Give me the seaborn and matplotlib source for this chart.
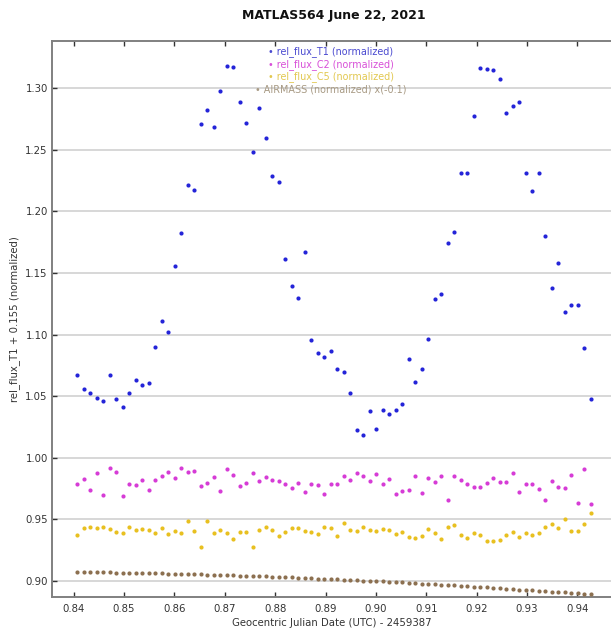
import numpy as np
import pandas as pd
import matplotlib
matplotlib.use("Agg")
import matplotlib.pyplot as plt
import seaborn as sns

# ---- data ----
jd = [0.84075, 0.84204, 0.84333, 0.84462, 0.84591, 0.84720, 0.84849, 0.84978, 0.85107, 0.85236,
      0.85365, 0.85494, 0.85623, 0.85752, 0.85881, 0.86010, 0.86139, 0.86268, 0.86397, 0.86526,
      0.86655, 0.86784, 0.86913, 0.87042, 0.87171, 0.87300, 0.87429, 0.87558, 0.87687, 0.87816,
      0.87945, 0.88074, 0.88203, 0.88332, 0.88461, 0.88590, 0.88719, 0.88848, 0.88977, 0.89106,
      0.89235, 0.89364, 0.89493, 0.89622, 0.89751, 0.89880, 0.90009, 0.90138, 0.90267, 0.90396,
      0.90525, 0.90654, 0.90783, 0.90912, 0.91041, 0.91170, 0.91299, 0.91428, 0.91557, 0.91686,
      0.91815, 0.91944, 0.92073, 0.92202, 0.92331, 0.92460, 0.92589, 0.92718, 0.92847, 0.92976,
      0.93105, 0.93234, 0.93363, 0.93492, 0.93621, 0.93750, 0.93879, 0.94008, 0.94137, 0.94266]

flux_T1 = [1.0675, 1.0558, 1.0528, 1.0482, 1.0463, 1.0675, 1.0476, 1.0407, 1.0528, 1.0628,
           1.0590, 1.0604, 1.0902, 1.1111, 1.1023, 1.1558, 1.1826, 1.2211, 1.2173, 1.2707,
           1.2821, 1.2688, 1.2980, 1.3181, 1.3173, 1.2886, 1.2715, 1.2480, 1.2842, 1.2598,
           1.2289, 1.2238, 1.1615, 1.1398, 1.1293, 1.1667, 1.0958, 1.0846, 1.0821, 1.0867,
           1.0718, 1.0699, 1.0528, 1.0222, 1.0184, 1.0382, 1.0230, 1.0387, 1.0350, 1.0387,
           1.0439, 1.0797, 1.0612, 1.0718, 1.0966, 1.1285, 1.1328, 1.1742, 1.1832, 1.2309,
           1.2314, 1.2777, 1.3165, 1.3159, 1.3146, 1.3076, 1.2797, 1.2859, 1.2886, 1.2309,
           1.2168, 1.2309, 1.1799, 1.1374, 1.1582, 1.1181, 1.1238, 1.1238, 1.0889, 1.0476]

flux_C2 = [0.9783, 0.9824, 0.9734, 0.9872, 0.9696, 0.9913, 0.9880, 0.9688, 0.9789, 0.9777,
           0.9821, 0.9734, 0.9821, 0.9854, 0.9880, 0.9834, 0.9913, 0.9880, 0.9891, 0.9772,
           0.9797, 0.9842, 0.9726, 0.9905, 0.9862, 0.9767, 0.9797, 0.9872, 0.9810, 0.9842,
           0.9821, 0.9807, 0.9783, 0.9750, 0.9797, 0.9720, 0.9783, 0.9775, 0.9707, 0.9783,
           0.9789, 0.9854, 0.9815, 0.9875, 0.9848, 0.9810, 0.9864, 0.9789, 0.9829, 0.9707,
           0.9726, 0.9740, 0.9854, 0.9712, 0.9834, 0.9802, 0.9854, 0.9655, 0.9848, 0.9821,
           0.9789, 0.9764, 0.9759, 0.9797, 0.9834, 0.9802, 0.9802, 0.9878, 0.9720, 0.9789,
           0.9783, 0.9745, 0.9655, 0.9807, 0.9759, 0.9750, 0.9859, 0.9631, 0.9905, 0.9623]

flux_C5 = [0.9371, 0.9428, 0.9433, 0.9428, 0.9433, 0.9420, 0.9395, 0.9385, 0.9439, 0.9415,
           0.9420, 0.9415, 0.9390, 0.9428, 0.9376, 0.9401, 0.9390, 0.9485, 0.9401, 0.9276,
           0.9485, 0.9390, 0.9415, 0.9390, 0.9338, 0.9395, 0.9395, 0.9276, 0.9415, 0.9433,
           0.9415, 0.9363, 0.9395, 0.9428, 0.9428, 0.9407, 0.9395, 0.9376, 0.9433, 0.9428,
           0.9363, 0.9466, 0.9415, 0.9401, 0.9433, 0.9415, 0.9401, 0.9420, 0.9415, 0.9376,
           0.9395, 0.9352, 0.9344, 0.9363, 0.9420, 0.9390, 0.9336, 0.9439, 0.9452, 0.9371,
           0.9350, 0.9390, 0.9371, 0.9320, 0.9325, 0.9333, 0.9371, 0.9395, 0.9358, 0.9385,
           0.9371, 0.9390, 0.9433, 0.9458, 0.9428, 0.9498, 0.9407, 0.9401, 0.9460, 0.9553]

airmass = [0.9073, 0.9072, 0.9071, 0.9070, 0.9068, 0.9067, 0.9066, 0.9065, 0.9064, 0.9063,
           0.9062, 0.9060, 0.9059, 0.9058, 0.9057, 0.9056, 0.9055, 0.9053, 0.9052, 0.9051,
           0.9049, 0.9047, 0.9046, 0.9044, 0.9043, 0.9041, 0.9039, 0.9037, 0.9035, 0.9034,
           0.9032, 0.9030, 0.9028, 0.9026, 0.9024, 0.9022, 0.9020, 0.9017, 0.9015, 0.9012,
           0.9010, 0.9008, 0.9005, 0.9003, 0.9000, 0.8998, 0.8995, 0.8993, 0.8990, 0.8987,
           0.8985, 0.8982, 0.8979, 0.8976, 0.8973, 0.8970, 0.8967, 0.8964, 0.8961, 0.8957,
           0.8954, 0.8951, 0.8948, 0.8945, 0.8941, 0.8938, 0.8934, 0.8931, 0.8927, 0.8924,
           0.8920, 0.8917, 0.8913, 0.8910, 0.8907, 0.8904, 0.8901, 0.8897, 0.8893, 0.8889]

series_labels = ["rel_flux_T1 (normalized)", "rel_flux_C2 (normalized)",
                 "rel_flux_C5 (normalized)", "AIRMASS (normalized) x(-0.1)"]
point_colors = ["#2424d8", "#d63cd6", "#e8c020", "#8c7050"]
text_colors = ["#4a4ad0", "#d850d8", "#e2c850", "#a89a84"]

xticks = [0.84, 0.85, 0.86, 0.87, 0.88, 0.89, 0.90, 0.91, 0.92, 0.93, 0.94]
yticks = [0.90, 0.95, 1.00, 1.05, 1.10, 1.15, 1.20, 1.25, 1.30]

# ---- figure ----
sns.set_style("white")
plt.rcParams['font.family'] = ['DejaVu Sans']

fig = plt.figure(figsize=(6.11, 6.31), dpi=100)
ax = fig.add_axes([52 / 611, 1 - 597 / 631, (611 - 52) / 611, (597 - 41) / 631])

for ys, c in zip([flux_T1, flux_C2, flux_C5, airmass], point_colors):
    sns.scatterplot(x=jd, y=ys, ax=ax, color=c, s=9, linewidth=0, legend=False, zorder=3)

ax.set_xlim(0.83573, 0.94665)
ax.set_ylim(0.8867, 1.3385)
ax.set_xticks(xticks)
ax.set_xticklabels([f"{t:.2f}" for t in xticks])
ax.set_yticks(yticks)
ax.set_yticklabels([f"{t:.2f}" for t in yticks])

ax.yaxis.grid(True, color="#d4d4d4", linewidth=1.3, zorder=0)
ax.xaxis.grid(False)
ax.set_axisbelow(True)

for side in ["left", "top", "bottom"]:
    ax.spines[side].set_color("#808080")
    ax.spines[side].set_linewidth(1.4)
ax.spines["right"].set_visible(False)

ax.tick_params(axis="both", which="both", direction="in", length=3.5, width=1,
               color="#333333", labelsize=7.3, labelcolor="#333333")
ax.tick_params(axis="x", top=True, bottom=True, pad=5)
ax.tick_params(axis="y", left=True, right=False, pad=3)

ax.set_xlabel("Geocentric Julian Date (UTC) - 2459387", fontsize=7.3, color="#333333", labelpad=3)
ax.set_ylabel("rel_flux_T1 + 0.155 (normalized)", fontsize=7.3, color="#333333", labelpad=4)

fig.text(334 / 611, 1 - 15 / 631, "MATLAS564 June 22, 2021", ha="center", va="center",
         fontsize=9, fontweight="bold", color="#111111")

# legend: centered rows with colored text
leg_y = [51.7, 64.3, 76.5, 89.3]
for lab, c, tc, yy in zip(series_labels, point_colors, text_colors, leg_y):
    ax.text(331 / 611 * 611 / 559 - 52 / 559, 1 - (yy - 41) / 556, "\u2022 " + lab,
            transform=ax.transAxes, ha="center", va="center", fontsize=6.9,
            color=tc, zorder=5)

fig.savefig("out.png", dpi=100)
